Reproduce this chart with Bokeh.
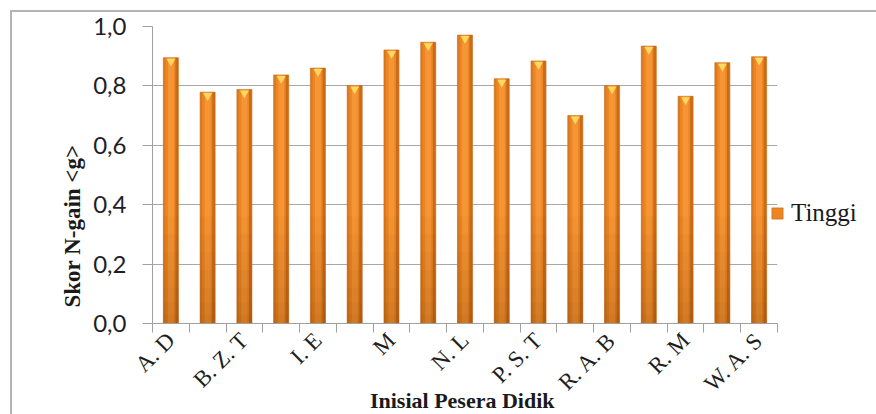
from math import pi
from bokeh.plotting import figure
from bokeh.models import FixedTicker, Legend, LegendItem, Title, CustomJSTickFormatter, ColumnDataSource
from bokeh.transform import dodge
from bokeh.embed import file_html
from bokeh.resources import INLINE

# ---- data ----
positions = list(range(1, 18))
scores = [0.895, 0.779, 0.788, 0.837, 0.860, 0.801, 0.921, 0.947, 0.971,
          0.824, 0.884, 0.700, 0.801, 0.934, 0.765, 0.878, 0.898]
label_positions = [1, 3, 5, 7, 9, 11, 13, 15, 17]
tick_labels = ["A. D", "B. Z. T", "I. E", "M", "N. L", "P. S. T", "R. A. B", "R. M", "W. A. S"]
yticks = [0.0, 0.2, 0.4, 0.6, 0.8, 1.0]
series_name = "Tinggi"
x_title = "Inisial  Pesera Didik"
y_title = "Skor N-gain <g>"

shade_levels = [0.36, 0.30, 0.24, 0.18, 0.12, 0.07, 0.03]
data = dict(x=positions, top=scores, tri=[v - 0.012 for v in scores])
for i, lv in enumerate(shade_levels):
    data[f"s{i}"] = [min(v, lv) for v in scores]
src = ColumnDataSource(data)

p = figure(frame_width=625, frame_height=297,
           x_range=(0.5, 17.5), y_range=(0, 1.0),
           output_backend="svg", toolbar_location=None,
           min_border_left=140, min_border_right=91,
           min_border_top=14, min_border_bottom=85)
p.styles = {"margin-left": "10px", "margin-top": "10px",
            "border-left": "2px solid #B4B4B4", "border-top": "2px solid #B4B4B4"}
p.outline_line_color = None
p.background_fill_color = "white"
p.border_fill_color = "white"

bw = 0.41
base = p.vbar(x="x", top="top", width=bw, source=src,
              fill_color="#EC8522", line_color="#C4691C", line_width=0.6)
p.vbar(x="x", top="top", width=0.16, source=src, fill_color="#F99B3C",
       fill_alpha=0.75, line_color=None)
p.vbar(x=dodge("x", 0.16, range=p.x_range), top="top", width=0.07, source=src,
       fill_color="#B45A14", fill_alpha=0.6, line_color=None)
p.vbar(x=dodge("x", -0.175, range=p.x_range), top="top", width=0.05, source=src,
       fill_color="#C9701E", fill_alpha=0.5, line_color=None)
for i in range(len(shade_levels)):
    p.vbar(x="x", top=f"s{i}", width=bw, source=src, fill_color="#5A2A00",
           fill_alpha=0.04, line_color=None)
p.scatter(x="x", y="tri", source=src, marker="inverted_triangle", size=9,
          fill_color="#FFD860", line_color=None)

# axes
p.xgrid.grid_line_color = None
p.ygrid.grid_line_color = "#A8A8A8"
p.ygrid.grid_line_width = 1

p.yaxis.ticker = FixedTicker(ticks=yticks)
p.yaxis.formatter = CustomJSTickFormatter(code="return tick.toFixed(1).replace('.', ',');")
p.yaxis.axis_line_color = "#A0A0A0"
p.yaxis.major_tick_line_color = "#A0A0A0"
p.yaxis.major_tick_out = 10
p.yaxis.major_tick_in = 0
p.yaxis.minor_tick_line_color = None
p.yaxis.major_label_text_font = "Lato"
p.yaxis.major_label_text_font_size = "24px"
p.yaxis.major_label_text_color = "#1E1E28"
p.yaxis.major_label_standoff = 16

p.xaxis.ticker = FixedTicker(ticks=label_positions,
                             minor_ticks=[i + 0.5 for i in range(0, 18)])
p.xaxis.major_label_overrides = {k: v for k, v in zip(label_positions, tick_labels)}
p.xaxis.major_label_orientation = pi / 4
p.xaxis.major_label_text_font = "Liberation Serif"
p.xaxis.major_label_text_font_size = "23px"
p.xaxis.major_label_text_color = "#1E1E1E"
p.xaxis.axis_line_color = "#A0A0A0"
p.xaxis.major_tick_out = 0
p.xaxis.major_tick_in = 0
p.xaxis.minor_tick_out = 9
p.xaxis.minor_tick_in = 0
p.xaxis.minor_tick_line_color = "#A0A0A0"
p.xaxis.major_label_standoff = 4
p.xaxis.axis_label = x_title
p.xaxis.axis_label_standoff = -20
p.xaxis.axis_label_text_font = "Liberation Serif"
p.xaxis.axis_label_text_font_style = "bold"
p.xaxis.axis_label_text_font_size = "22px"
p.xaxis.axis_label_text_color = "#1A1A1A"

p.add_layout(Title(text=y_title, align="left", offset=16, vertical_align="bottom",
                   standoff=12, text_font="Liberation Serif", text_font_style="bold",
                   text_font_size="23px", text_color="#1A1A1A"), "left")

legend = Legend(items=[LegendItem(label=series_name, renderers=[base])],
                location=(-7, 96), border_line_color=None,
                background_fill_alpha=0, padding=0, margin=0,
                glyph_width=14, glyph_height=14, label_standoff=7,
                label_text_font="Liberation Serif", label_text_font_size="25px",
                label_text_color="#1A1A1A")
p.add_layout(legend, "right")

open("out.html", "w").write(file_html(p, INLINE))
